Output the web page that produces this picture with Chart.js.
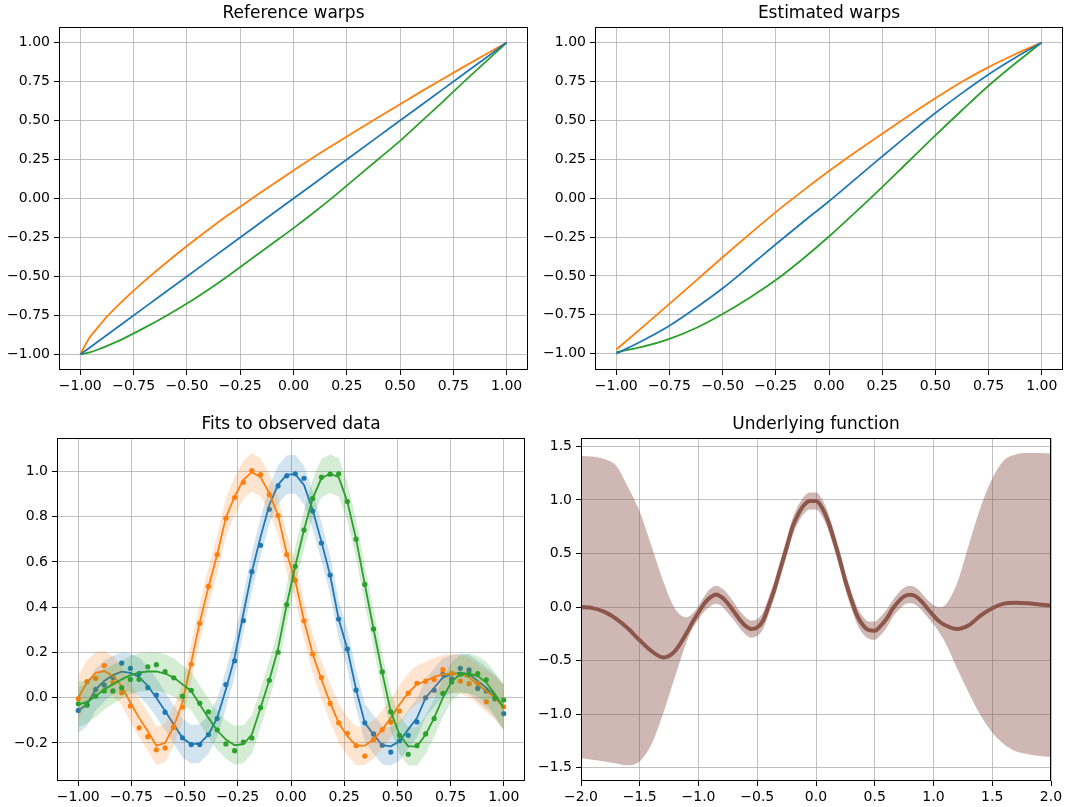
<!DOCTYPE html>
<html lang="en">
<head>
<meta charset="UTF-8">
<title>Warps and fits</title>
<script src="https://cdn.jsdelivr.net/npm/chart.js@4.4.3/dist/chart.umd.min.js"></script>
<style>
  body { margin: 0; background: #fff; }
  canvas { position: absolute; }
</style>
</head>
<body>
<canvas id="refChart" width="545" height="400" style="left:0;top:0"></canvas>
<canvas id="estChart" width="531" height="400" style="left:535px;top:0"></canvas>
<canvas id="fitChart" width="545" height="407" style="left:0;top:400px"></canvas>
<canvas id="funcChart" width="536" height="407" style="left:530px;top:400px"></canvas>
<script>
// ---- reference warps ----
const refX = [-1, -0.96, -0.92, -0.88, -0.8, -0.7, -0.6, -0.5, -0.4, -0.3, -0.2, -0.1, 0, 0.1, 0.2, 0.3, 0.4, 0.5, 0.6, 0.7, 0.8, 0.9, 1];
const refBlue = [-1, -0.96, -0.92, -0.88, -0.8, -0.7, -0.6, -0.5, -0.4, -0.3, -0.2, -0.1, 0, 0.1, 0.2, 0.3, 0.4, 0.5, 0.6, 0.7, 0.8, 0.9, 1];
const refOrange = [-1, -0.9, -0.83, -0.765, -0.655, -0.53, -0.415, -0.305, -0.2, -0.1, -0.005, 0.088, 0.18, 0.27, 0.355, 0.44, 0.523, 0.605, 0.687, 0.767, 0.846, 0.924, 1];
const refGreen = [-1, -0.988, -0.97, -0.948, -0.9, -0.83, -0.755, -0.674, -0.585, -0.49, -0.39, -0.29, -0.19, -0.085, 0.025, 0.14, 0.255, 0.37, 0.495, 0.62, 0.75, 0.875, 1];

// ---- estimated warps ----
const estX = [-1, -0.875, -0.75, -0.625, -0.5, -0.375, -0.25, -0.125, 0, 0.125, 0.25, 0.375, 0.5, 0.625, 0.75, 0.875, 1];
const estBlue = [-1.0, -0.915, -0.82, -0.705, -0.58, -0.44, -0.297, -0.157, -0.02, 0.124, 0.268, 0.41, 0.547, 0.675, 0.795, 0.902, 1.0];
const estOrange = [-0.973, -0.828, -0.68, -0.53, -0.38, -0.233, -0.09, 0.045, 0.174, 0.296, 0.414, 0.53, 0.642, 0.748, 0.842, 0.925, 1.0];
const estGreen = [-0.99, -0.955, -0.905, -0.835, -0.745, -0.642, -0.527, -0.393, -0.247, -0.09, 0.071, 0.237, 0.403, 0.565, 0.722, 0.865, 1.0];

// ---- observed data and fits ----
const fitX = [-1.0, -0.959, -0.918, -0.878, -0.837, -0.796, -0.755, -0.714, -0.673, -0.633,
  -0.592, -0.551, -0.510, -0.469, -0.429, -0.388, -0.347, -0.306, -0.265, -0.224,
  -0.184, -0.143, -0.102, -0.061, -0.020, 0.020, 0.061, 0.102, 0.143, 0.184,
  0.224, 0.265, 0.306, 0.347, 0.388, 0.429, 0.469, 0.510, 0.551, 0.592,
  0.633, 0.673, 0.714, 0.755, 0.796, 0.837, 0.878, 0.918, 0.959, 1.0];
const obsBlue = [-0.056, -0.03, 0.037, 0.056, 0.09, 0.153, 0.13, 0.107, 0.045, 0.012,
  -0.064, -0.13, -0.177, -0.207, -0.207, -0.163, -0.092, 0.058, 0.163, 0.341,
  0.557, 0.674, 0.833, 0.936, 0.981, 0.99, 0.97, 0.825, 0.684, 0.542,
  0.348, 0.215, 0.034, -0.111, -0.16, -0.21, -0.24, -0.19, -0.166, -0.107,
  0.0, 0.033, 0.104, 0.084, 0.13, 0.123, 0.041, 0.03, -0.005, -0.07];
const fitBlue = [-0.056, -0.03, 0.037, 0.074, 0.1, 0.115, 0.11, 0.092, 0.052, 0.0,
  -0.059, -0.118, -0.178, -0.206, -0.202, -0.163, -0.089, 0.037, 0.178, 0.37,
  0.556, 0.711, 0.852, 0.941, 0.986, 0.988, 0.94, 0.83, 0.69, 0.541,
  0.348, 0.215, 0.037, -0.111, -0.163, -0.21, -0.215, -0.193, -0.14, -0.09,
  0.0, 0.044, 0.089, 0.104, 0.111, 0.104, 0.074, 0.044, 0.007, -0.044];
const obsOrange = [-0.004, 0.071, 0.086, 0.142, 0.067, 0.022, -0.036, -0.133, -0.172, -0.23,
  -0.222, -0.129, -0.041, 0.148, 0.329, 0.492, 0.633, 0.793, 0.885, 0.952,
  1.004, 0.986, 0.898, 0.805, 0.633, 0.519, 0.34, 0.193, 0.089, -0.025,
  -0.111, -0.157, -0.212, -0.258, -0.185, -0.141, -0.108, -0.059, 0.02, 0.064,
  0.073, 0.081, 0.124, 0.108, 0.074, 0.062, 0.064, -0.018, 0.0, -0.04];
const fitOrange = [0.0, 0.067, 0.11, 0.118, 0.096, 0.052, -0.022, -0.089, -0.148, -0.212,
  -0.2, -0.126, -0.02, 0.156, 0.333, 0.489, 0.633, 0.797, 0.889, 0.963,
  0.997, 0.975, 0.904, 0.807, 0.637, 0.519, 0.341, 0.193, 0.08, -0.022,
  -0.111, -0.17, -0.212, -0.212, -0.185, -0.141, -0.089, -0.03, 0.022, 0.059,
  0.074, 0.092, 0.104, 0.107, 0.104, 0.089, 0.059, 0.03, 0.0, -0.041];
const obsGreen = [-0.027, -0.033, 0.007, 0.03, 0.03, 0.044, 0.081, 0.081, 0.137, 0.146,
  0.115, 0.088, 0.007, 0.033, -0.024, -0.062, -0.142, -0.204, -0.234, -0.196,
  -0.178, -0.044, 0.077, 0.201, 0.412, 0.581, 0.741, 0.881, 0.975, 0.988,
  0.99, 0.867, 0.701, 0.501, 0.304, 0.114, -0.062, -0.166, -0.25, -0.212,
  -0.16, -0.092, 0.019, 0.07, 0.104, 0.104, 0.107, 0.079, 0.0, -0.01];
const fitGreen = [-0.03, -0.018, 0.007, 0.037, 0.059, 0.081, 0.1, 0.111, 0.116, 0.116,
  0.107, 0.089, 0.059, 0.03, -0.03, -0.089, -0.145, -0.185, -0.21, -0.205,
  -0.163, -0.044, 0.077, 0.215, 0.412, 0.581, 0.741, 0.881, 0.97, 0.99,
  0.975, 0.867, 0.701, 0.501, 0.304, 0.111, -0.062, -0.163, -0.215, -0.215,
  -0.163, -0.089, 0.0, 0.071, 0.104, 0.107, 0.096, 0.067, 0.015, -0.044];
// half-width of the shaded confidence band around each fit
const fitSpread = [0.1, 0.096, 0.092, 0.089, 0.087, 0.085, 0.085, 0.085, 0.085, 0.085,
  0.085, 0.085, 0.085, 0.085, 0.085, 0.085, 0.085, 0.085, 0.085, 0.085,
  0.085, 0.085, 0.085, 0.085, 0.085, 0.085, 0.085, 0.085, 0.085, 0.085,
  0.085, 0.085, 0.085, 0.085, 0.085, 0.085, 0.085, 0.085, 0.085, 0.085,
  0.085, 0.085, 0.085, 0.085, 0.085, 0.087, 0.089, 0.092, 0.096, 0.1];

// ---- underlying function (mean and band) ----
const funcX = [-2.0, -1.9, -1.8, -1.7, -1.6, -1.5, -1.4, -1.3, -1.2, -1.1,
  -1.05, -1.0, -0.95, -0.9, -0.85, -0.8, -0.75, -0.7, -0.65, -0.6,
  -0.55, -0.5, -0.45, -0.4, -0.35, -0.3, -0.25, -0.2, -0.15, -0.1,
  -0.05, 0.0, 0.05, 0.1, 0.15, 0.2, 0.25, 0.3, 0.35, 0.4,
  0.45, 0.5, 0.55, 0.6, 0.65, 0.7, 0.75, 0.8, 0.85, 0.9,
  0.95, 1.0, 1.05, 1.1, 1.2, 1.3, 1.4, 1.5, 1.6, 1.7,
  1.8, 1.9, 2.0];
const funcMean = [0.0, -0.01, -0.045, -0.11, -0.2, -0.31, -0.41, -0.47, -0.41, -0.24,
  -0.14, -0.05, 0.034, 0.09, 0.118, 0.09, 0.034, -0.04, -0.115, -0.175,
  -0.205, -0.19, -0.125, 0.02, 0.18, 0.37, 0.555, 0.746, 0.87, 0.955,
  0.99, 0.99, 0.93, 0.81, 0.64, 0.45, 0.245, 0.07, -0.08, -0.17,
  -0.215, -0.22, -0.175, -0.11, -0.02, 0.05, 0.1, 0.115, 0.1, 0.05,
  -0.015, -0.08, -0.135, -0.17, -0.205, -0.17, -0.08, -0.01, 0.032, 0.04,
  0.035, 0.025, 0.015];
const funcUpper = [1.41, 1.405, 1.38, 1.32, 1.12, 0.89, 0.57, 0.24, -0.015, -0.095,
  -0.06, 0.01, 0.1, 0.17, 0.2, 0.175, 0.12, 0.045, -0.035, -0.095,
  -0.125, -0.11, -0.045, 0.1, 0.26, 0.45, 0.635, 0.826, 0.95, 1.035,
  1.07, 1.07, 1.01, 0.89, 0.72, 0.53, 0.325, 0.15, 0.0, -0.09,
  -0.135, -0.135, -0.09, -0.025, 0.06, 0.13, 0.18, 0.198, 0.18, 0.13,
  0.065, 0.02, 0.0, 0.02, 0.22, 0.58, 0.93, 1.2, 1.37, 1.425,
  1.437, 1.437, 1.433];
const funcLower = [-1.41, -1.425, -1.44, -1.46, -1.477, -1.44, -1.28, -0.99, -0.65, -0.32,
  -0.2, -0.115, -0.04, 0.005, 0.03, 0.005, -0.055, -0.12, -0.195, -0.255,
  -0.285, -0.27, -0.205, -0.06, 0.1, 0.29, 0.475, 0.666, 0.79, 0.875,
  0.91, 0.91, 0.85, 0.73, 0.56, 0.37, 0.165, -0.01, -0.16, -0.25,
  -0.295, -0.305, -0.26, -0.195, -0.1, -0.03, 0.02, 0.035, 0.02, -0.03,
  -0.095, -0.16, -0.24, -0.33, -0.57, -0.8, -1.01, -1.17, -1.28, -1.345,
  -1.37, -1.39, -1.40];

// tick positions
const warpTicks = [-1, -0.75, -0.5, -0.25, 0, 0.25, 0.5, 0.75, 1];
const fitYTicks = [-0.2, 0, 0.2, 0.4, 0.6, 0.8, 1.0];
const funcXTicks = [-2, -1.5, -1, -0.5, 0, 0.5, 1, 1.5, 2];
const funcYTicks = [-1.5, -1, -0.5, 0, 0.5, 1, 1.5];

const BLUE = '#1f77b4', ORANGE = '#ff7f0e', GREEN = '#2ca02c', BROWN = '#8c564b';

Chart.defaults.font.family = "'DejaVu Sans', sans-serif";
Chart.defaults.color = '#000';

const pts = (xs, ys) => xs.map((x, i) => ({ x: x, y: ys[i] }));
const fmt = (v, dec) => v.toFixed(dec).replace('-', '\u2212');

// black frame round the plot area, like axis spines
const spines = {
  id: 'spines',
  afterDatasetsDraw(chart) {
    const a = chart.chartArea;
    const ctx = chart.ctx;
    ctx.save();
    ctx.strokeStyle = '#000';
    ctx.lineWidth = 1;
    ctx.strokeRect(Math.round(a.left) + 0.5, Math.round(a.top) + 0.5,
      Math.round(a.right - a.left) - 1, Math.round(a.bottom - a.top) - 1);
    ctx.restore();
  }
};

function axis(min, max, ticks, dec, isX, size) {
  return {
    type: 'linear',
    min: min,
    max: max,
    afterBuildTicks: s => { s.ticks = ticks.map(v => ({ value: v })); },
    afterFit: s => { if (isX) s.height = size; else s.width = size; },
    grid: { color: '#b0b0b0', lineWidth: 0.8, tickColor: '#000', tickLength: 5, tickWidth: 1 },
    border: { display: false },
    ticks: {
      color: '#000', font: { size: 14 }, padding: isX ? 3 : 4,
      maxRotation: 0, autoSkip: false,
      callback: v => fmt(v, dec)
    }
  };
}

function options(o) {
  return {
    responsive: false,
    animation: false,
    devicePixelRatio: 1,
    layout: { padding: { left: 0, right: o.padRight, top: 0, bottom: 0 } },
    plugins: {
      legend: { display: false },
      tooltip: { enabled: false },
      title: {
        display: true, text: o.title, fullSize: false, color: '#000',
        font: { size: 17, weight: 'normal' },
        padding: { top: o.titleTop, bottom: 2.8 }
      }
    },
    scales: {
      x: axis(o.x[0], o.x[1], o.xTicks, o.xDec, true, o.xHeight),
      y: axis(o.y[0], o.y[1], o.yTicks, o.yDec, false, o.yWidth)
    }
  };
}

function curve(xs, ys, color, width) {
  return {
    data: pts(xs, ys), borderColor: color, borderWidth: width,
    pointRadius: 0, fill: false, cubicInterpolationMode: 'monotone'
  };
}

new Chart(document.getElementById('refChart'), {
  type: 'line',
  data: { datasets: [
    curve(refX, refBlue, BLUE, 1.8),
    curve(refX, refOrange, ORANGE, 1.8),
    curve(refX, refGreen, GREEN, 1.8)
  ] },
  options: options({ title: 'Reference warps', titleTop: 3.8, padRight: 17,
    x: [-1.1, 1.1], y: [-1.1, 1.1], xTicks: warpTicks, yTicks: warpTicks,
    xDec: 2, yDec: 2, xHeight: 30, yWidth: 59 }),
  plugins: [spines]
});

new Chart(document.getElementById('estChart'), {
  type: 'line',
  data: { datasets: [
    curve(estX, estBlue, BLUE, 1.8),
    curve(estX, estOrange, ORANGE, 1.8),
    curve(estX, estGreen, GREEN, 1.8)
  ] },
  options: options({ title: 'Estimated warps', titleTop: 3.8, padRight: 3,
    x: [-1.1, 1.1], y: [-1.105, 1.1], xTicks: warpTicks, yTicks: warpTicks,
    xDec: 2, yDec: 2, xHeight: 30, yWidth: 60 }),
  plugins: [spines]
});

// each series: shaded band, fitted line, observed points (drawn bottom to top)
function fitSeries(fit, obs, color, rgb, z) {
  return [
    { data: pts(fitX, fit.map((v, i) => v + fitSpread[i])), fill: '+1',
      backgroundColor: 'rgba(' + rgb + ',0.2)', borderWidth: 0, pointRadius: 0, order: z },
    { data: pts(fitX, fit.map((v, i) => v - fitSpread[i])), fill: false,
      borderWidth: 0, pointRadius: 0, order: z },
    { data: pts(fitX, fit), borderColor: color, borderWidth: 1.8, pointRadius: 0,
      fill: false, order: z - 1 },
    { data: pts(fitX, obs), showLine: false, pointRadius: 2.6, pointBorderWidth: 0,
      pointBackgroundColor: color, order: z - 2 }
  ];
}

new Chart(document.getElementById('fitChart'), {
  type: 'line',
  data: { datasets: [
    ...fitSeries(fitBlue, obsBlue, BLUE, '31,119,180', 30),
    ...fitSeries(fitOrange, obsOrange, ORANGE, '255,127,14', 20),
    ...fitSeries(fitGreen, obsGreen, GREEN, '44,160,44', 10)
  ] },
  options: options({ title: 'Fits to observed data', titleTop: 14.8, padRight: 20,
    x: [-1.1, 1.1], y: [-0.368, 1.148], xTicks: warpTicks, yTicks: fitYTicks,
    xDec: 2, yDec: 1, xHeight: 26, yWidth: 57 }),
  plugins: [spines]
});

new Chart(document.getElementById('funcChart'), {
  type: 'line',
  data: { datasets: [
    { data: pts(funcX, funcUpper), fill: '+1', backgroundColor: 'rgba(140,86,75,0.42)',
      borderWidth: 0, pointRadius: 0, cubicInterpolationMode: 'monotone', order: 3 },
    { data: pts(funcX, funcLower), fill: false, borderWidth: 0, pointRadius: 0,
      cubicInterpolationMode: 'monotone', order: 3 },
    Object.assign(curve(funcX, funcMean, BROWN, 4), { order: 1 })
  ] },
  options: options({ title: 'Underlying function', titleTop: 14.8, padRight: 15,
    x: [-2, 2], y: [-1.623, 1.578], xTicks: funcXTicks, yTicks: funcYTicks,
    xDec: 1, yDec: 1, xHeight: 26, yWidth: 51 }),
  plugins: [spines]
});
</script>
</body>
</html>
